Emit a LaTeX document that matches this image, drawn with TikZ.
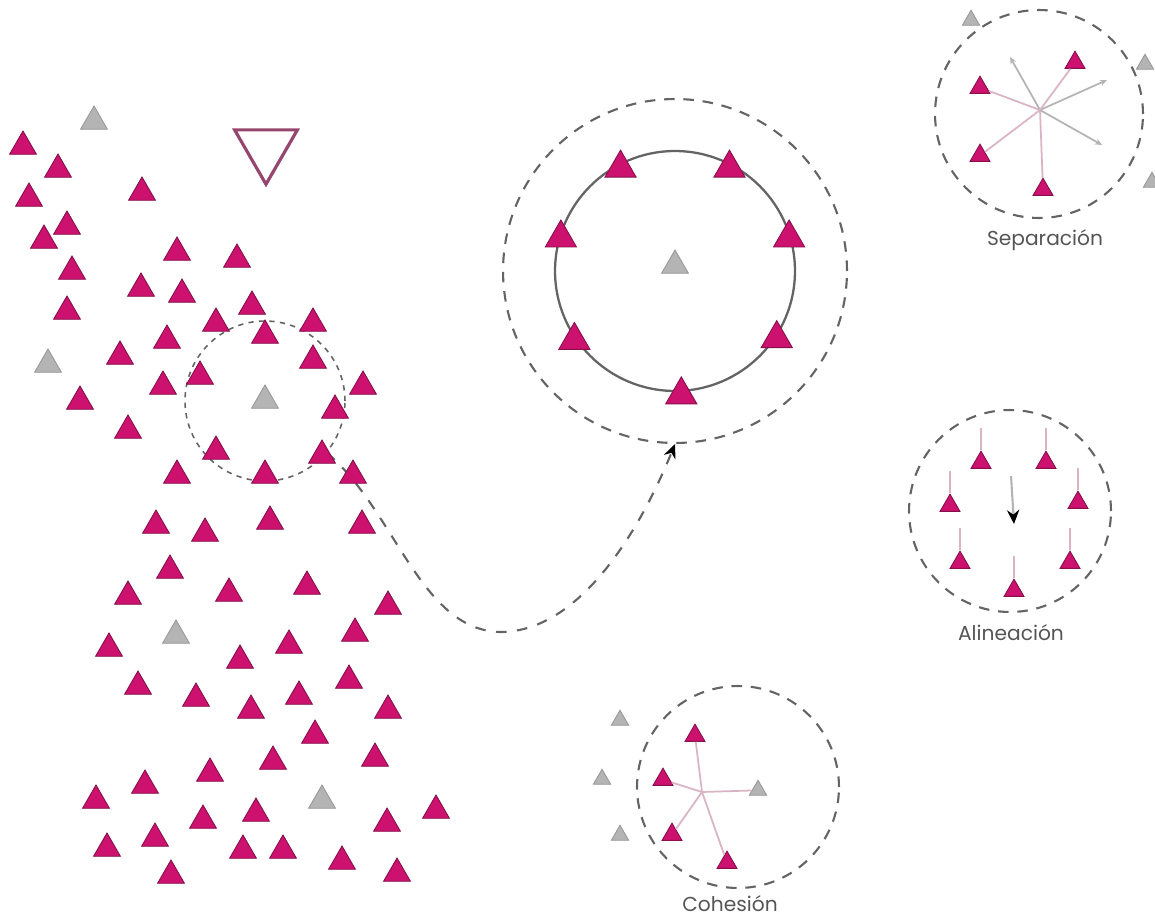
\documentclass[tikz,border=0pt]{standalone}
\usepackage{fontspec}
\setmainfont{Poppins}
\usepackage{tikz}
\usetikzlibrary{shapes.geometric, arrows.meta, positioning, calc}
\definecolor{mymagenta}{RGB}{204,18,110}
\definecolor{mywine}{RGB}{135,15,75}
\definecolor{mygrey}{RGB}{180,180,180}
\definecolor{mydash}{RGB}{100,100,100}
\definecolor{mypink}{RGB}{218,180,196}
\definecolor{mymauve}{RGB}{150,70,110}
\definecolor{mytext}{RGB}{85,85,85}
\tikzset{
  tri/.style={regular polygon, regular polygon sides=3, inner sep=0pt, line width=0.5pt},
  boid/.style={tri, fill=mymagenta, draw=mywine, minimum size=0.62cm, yshift=-2pt},
  greyboid/.style={tri, fill=mygrey, draw=mygrey!85!black, minimum size=0.62cm, yshift=-2pt},
  bigboid/.style={tri, fill=mymagenta, draw=mywine, minimum size=0.72cm, yshift=-2.3pt},
  smallboid/.style={tri, fill=mymagenta, draw=mywine, minimum size=0.46cm, yshift=-1.5pt},
  smallgrey/.style={tri, fill=mygrey, draw=mygrey!85!black, minimum size=0.4cm, yshift=-1.3pt},
  zone/.style={circle, draw=mydash, line width=1.2pt, dash pattern=on 6pt off 5pt, inner sep=0pt},
  link/.style={draw=mypink, line width=1pt},
  push/.style={-{Stealth[length=4pt, width=3.5pt]}, draw=mygrey, line width=1pt},
  trail/.style={draw=mypink, line width=1.2pt},
  caption/.style={font=\fontsize{11.5}{13}\selectfont, text=mytext, inner sep=1pt}
}

\begin{document}
\begin{tikzpicture}[x=0.02cm, y=-0.02cm,
  goal/.style={regular polygon, regular polygon sides=3, shape border rotate=180,
    draw=mymauve, line width=1.8pt, inner sep=0pt, minimum size=1.45cm},
  journey/.style={draw=mydash, line width=1.2pt, dash pattern=on 6pt off 6pt,
    -{Stealth[length=8pt, width=7pt, black]}}
]
  \useasboundingbox (0,0) rectangle (1155,922);

  % zoomed neighbourhood
  \coordinate (hub) at (675,271);
  \node[zone, minimum size=6.88cm] (outer) at (hub) {};
  \draw[draw=mydash, line width=1.3pt] (hub) circle[radius=2.4cm];

  % neighbourhood inside the flock
  \node[zone, minimum size=3.2cm, line width=0.9pt, dash pattern=on 3pt off 3pt] (nbhd) at (265,401) {};
  \draw[journey] (nbhd.-40) .. controls (395,510) and (420,630) .. (500,632)
    .. controls (580,632) and (640,530) .. (outer.south);

  % flock
  \foreach \x/\y [count=\i] in {23/143, 58/166, 29/195, 142/189, 67/223, 44/237, 72/268,
      67/308, 177/249, 237/256, 141/285, 182/291, 216/320, 252/303, 265/332, 313/320,
      167/337, 120/353, 313/357, 200/373, 163/383, 363/383, 80/398, 335/407, 128/427,
      216/448, 322/452, 177/472, 265/472, 353/472, 156/522, 205/530, 270/518, 362/522,
      170/567, 128/593, 229/590, 307/583, 388/603, 109/645, 240/657, 289/642, 355/630,
      138/683, 196/695, 251/707, 299/693, 349/677, 388/707, 315/732, 273/758, 375/755,
      210/770, 145/782, 96/797, 203/817, 256/810, 387/820, 436/807, 107/845, 155/835,
      243/847, 283/847, 342/858, 397/870, 171/872}
    \node[boid] (b\i) at (\x,\y) {};
  \foreach \x/\y [count=\i] in {94/118, 48/361, 265/397, 176/632, 322/797}
    \node[greyboid] (g\i) at (\x,\y) {};

  \node[goal] (goal) at (266,148) {};

  % ring of neighbours
  \node[greyboid] (lead) at (675,262) {};
  \foreach \a [count=\i] in {117, 63, 162, 18, 213, 328, 273}
    \node[bigboid] (r\i) at ($(hub)+(\a:2.4cm)$) {};

  % Separacion
  \coordinate (sep) at (1040,110);
  \node[zone, minimum size=4.16cm] (sepzone) at (1039,114) {};
  \foreach \x/\y [count=\i] in {1010/57, 1107/80, 1102/145}
    \coordinate (away\i) at (\x,\y);
  \foreach \i in {1,2,3}
    \draw[push] (sep) -- (away\i);
  \foreach \x/\y [count=\i] in {980/85, 1075/60, 980/153, 1043/187}
    \node[smallboid] (s\i) at (\x,\y) {};
  \foreach \i in {1,...,4}
    \draw[link] (sep) -- (s\i);
  \node[smallgrey] (s5) at (971,18) {};
  \node[smallgrey] (s6) at (1145,62) {};
  \node[smallgrey] (s7) at (1152,180) {};
  \node[caption] (septext) at (1045,240) {Separación};

  % Alineacion
  \node[zone, minimum size=4.04cm] (alizone) at (1010,511) {};
  \foreach \x/\y [count=\i] in {981/460, 1046/460, 950/503, 1078/500, 960/560, 1070/560, 1014/588}{
    \node[smallboid] (a\i) at (\x,\y) {};
    \draw[trail] (a\i.north) -- ++(0,-22);
  }
  \coordinate (alitop) at (1011,476);
  \coordinate (alihead) at (1014,524);
  \draw[draw=mygrey, line width=1.2pt, -{Stealth[length=8pt, width=7pt, black]}] (alitop) -- (alihead);
  \node[caption] (alitext) at (1011,633) {Alineación};

  % Cohesion
  \coordinate (coh) at (702,792);
  \node[zone, minimum size=4.04cm] (cohzone) at (738,787) {};
  \foreach \x/\y [count=\i] in {695/733, 663/777, 672/832, 727/860}
    \node[smallboid] (c\i) at (\x,\y) {};
  \foreach \x/\y [count=\i from 5] in {758/788, 620/718, 602/777, 620/833}
    \node[smallgrey] (c\i) at (\x,\y) {};
  \foreach \i in {1,...,5}
    \draw[link] (coh) -- (c\i);
  \node[caption] (cohtext) at (730,904) {Cohesión};
\end{tikzpicture}
\end{document}
